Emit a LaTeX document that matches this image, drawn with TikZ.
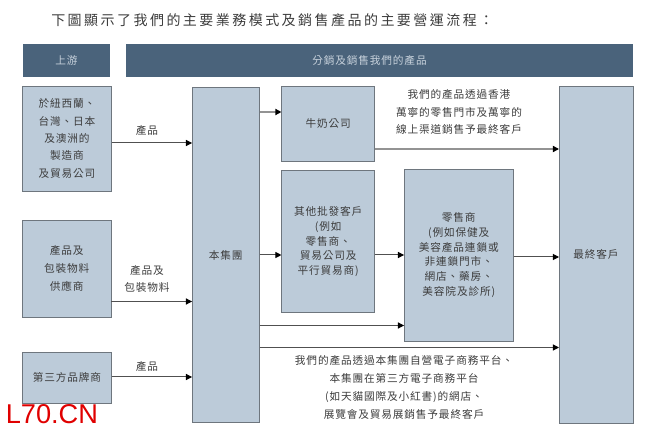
\documentclass[tikz,border=0pt]{standalone}
\usepackage{fontspec}
\usepackage{tikz}
\usetikzlibrary{arrows.meta,positioning}
\newfontfamily\cjk[LetterSpace=8]{Noto Sans CJK TC}
\newfontfamily\cjktitle[LetterSpace=17.6]{Noto Sans CJK TC}
\newfontfamily\wmark{Liberation Sans}
\definecolor{boxfill}{HTML}{BCCBD9}
\definecolor{boxline}{HTML}{6E767E}
\definecolor{headfill}{HTML}{4A637B}
\definecolor{headtext}{HTML}{C8D2DC}
\definecolor{inktext}{HTML}{3C3C3C}
\definecolor{flowline}{HTML}{505050}
\tikzset{
  bluebox/.style 2 args={draw=boxline,fill=boxfill,line width=0.7pt,outer sep=0pt,inner sep=0pt,
    minimum width=#1*0.75pt,minimum height=#2*0.75pt,align=center,text=inktext,
    font=\cjk\fontsize{8}{11}\selectfont},
  headbox/.style 2 args={fill=headfill,outer sep=0pt,inner sep=0pt,
    minimum width=#1*0.75pt,minimum height=#2*0.75pt,text=headtext,
    font=\cjk\fontsize{8}{11}\selectfont},
  flowlabel/.style={inner sep=0pt,align=center,text=inktext,font=\cjk\fontsize{8}{13.3}\selectfont},
  flow/.style={draw=flowline,line width=0.75pt,-{Triangle[length=4.6pt,width=4.6pt,color=black]}},
  flowpale/.style={flow,draw=gray!85,line width=1.1pt}
}
\begin{document}
\begin{tikzpicture}[x=0.75pt,y=-0.75pt]
\useasboundingbox (0,0) rectangle (650,434);

\node[anchor=west,inner sep=0pt,text=inktext,font=\cjktitle\fontsize{10.5}{13}\selectfont] (title) at (51,20)
  {下圖顯示了我們的主要業務模式及銷售產品的主要營運流程：};

% header bars
\node[headbox={87}{33}] (headup) at (66.5,60.5) {上游};
\node[headbox={507}{33}] (headsell) at (379.5,60.5) {分銷及銷售我們的產品\hspace*{15pt}};

% upstream
\node[bluebox={89}{105},font=\cjk\fontsize{8}{13}\selectfont] (supa) at (67,138.5)
  {於紐西蘭、\\台灣、日本\\及澳洲的\\製造商\\及貿易公司};
\node[bluebox={88.5}{97},font=\cjk\fontsize{8}{13.5}\selectfont] (supb) at (66.8,268.5)
  {產品及\\包裝物料\\供應商};
\node[bluebox={89}{51}] (supc) at (67,377.5) {第三方品牌商};

% group and customers
\node[bluebox={67.5}{335.5}] (group) at (225.8,255.2) {本集團};
\node[bluebox={93.5}{75}] (milk) at (328.2,123.5) {牛奶公司};
\node[bluebox={93.5}{141.5},font=\cjk\fontsize{8}{11}\selectfont] (whole) at (328.2,241.7)
  {其他批發客戶\\(例如\\零售商、\\貿易公司及\\平行貿易商)};
\node[bluebox={109.5}{172},font=\cjk\fontsize{8}{11}\selectfont] (retail) at (458.8,255)
  {零售商\\(例如保健及\\美容產品連鎖或\\非連鎖門市、\\網店、藥房、\\美容院及診所)};
\node[bluebox={74}{337}] (final) at (596,254.5) {最終客戶};

% connectors
\draw[flow] (supa.east |- 0,143) -- (group.west |- 0,143);
\draw[flow] (supb.east |- 0,301.5) -- (group.west |- 0,301.5);
\draw[flow] (supc.east |- 0,377) -- (group.west |- 0,377);
\draw[flowpale] (group.east |- 0,112) -- (milk.west |- 0,112);
\draw[flow] (group.east |- 0,255) -- (whole.west |- 0,255);
\draw[flow] (whole.east |- 0,255) -- (retail.west |- 0,255);
\draw[flow] (group.east |- 0,325.5) -- (retail.west |- 0,325.5);
\draw[flow] (group.east |- 0,347.5) -- (final.west |- 0,347.5);
\draw[flowpale] (milk.east |- 0,149) -- (final.west |- 0,149);
\draw[flow] (retail.east |- 0,257) -- (final.west |- 0,257);

% labels
\node[flowlabel] (lba) at (147,130) {產品};
\node[flowlabel] (lbb) at (147,279) {產品及\\包裝物料};
\node[flowlabel] (lbc) at (147,366) {產品};
\node[flowlabel] (lbtop) at (459,112) {我們的產品透過香港\\萬寧的零售門市及萬寧的\\線上渠道銷售予最終客戶};
\node[flowlabel] (lbbot) at (404,387.5) {我們的產品透過本集團自營電子商務平台、\\本集團在第三方電子商務平台\\(如天貓國際及小紅書)的網店、\\展覽會及貿易展銷售予最終客戶};

\node[anchor=west,inner sep=0pt,text={rgb,255:red,224;green,0;blue,0},font=\wmark\fontsize{20.4}{24}\selectfont] (wm) at (5.5,414) {L70.CN};
\end{tikzpicture}
\end{document}
